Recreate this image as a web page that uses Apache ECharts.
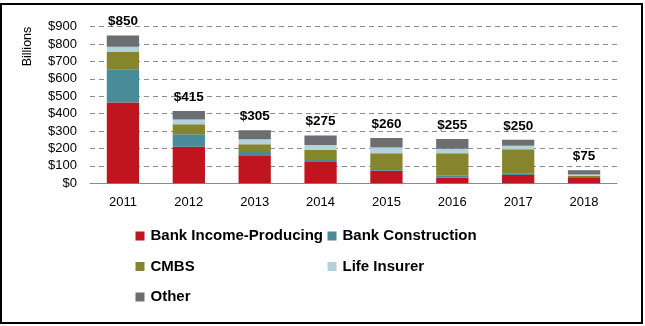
<!DOCTYPE html>
<html><head><meta charset="utf-8">
<script src="https://cdn.jsdelivr.net/npm/echarts@6/dist/echarts.min.js"></script>
<style>html,body{margin:0;padding:0;background:#fff}#c{width:645px;height:326px}</style>
</head><body><div id="c"></div>
<script>
const years = ['2011','2012','2013','2014','2015','2016','2017','2018'];
const totals = [850, 415, 305, 275, 260, 255, 250, 75];
const bankIncome = [465, 210, 161, 122, 72, 33, 47, 31];
const bankConstruction = [190, 72, 19, 17, 10, 10, 8, 5];
const cmbs = [100, 58, 44, 54, 90, 129, 141, 8];
const lifeInsurer = [30, 27, 29, 27, 34, 27, 20, 6];
const other = [65, 48, 52, 55, 54, 56, 34, 25];
const yTicks = [0, 100, 200, 300, 400, 500, 600, 700, 800, 900];

const font = "'Liberation Sans',Arial,sans-serif";
const colors = ['#c0141e', '#4a8b99', '#86852e', '#b3d3dc', '#6d6e71'];
const names = ['Bank Income-Producing', 'Bank Construction', 'CMBS', 'Life Insurer', 'Other'];
const datas = [bankIncome, bankConstruction, cmbs, lifeInsurer, other];

const series = datas.map((d, i) => ({
  name: names[i], type: 'bar', stack: 'total', data: d, barWidth: '49%',
  itemStyle: { color: colors[i] },
  label: i === 4 ? {
    show: true, position: 'top', distance: 7,
    formatter: p => '$' + totals[p.dataIndex],
    fontFamily: font, fontWeight: 'bold', fontSize: 13.5, color: '#000'
  } : { show: false }
}));

const legendText = { fontFamily: font, fontWeight: 'bold', fontSize: 15, color: '#000', lineHeight: 17, padding: [0,0,0,1] };

const chart = echarts.init(document.getElementById('c'), null, { renderer: 'canvas' });
chart.setOption({
  animation: false,
  color: colors,
  grid: { left: 90, right: 28, top: 26.7, bottom: 142.7 },
  graphic: [{
    type: 'rect', shape: { x: 1, y: 4, width: 641, height: 319 },
    style: { fill: 'none', stroke: '#000', lineWidth: 2 }, z: 100
  }, {
    type: 'text', x: 27.7, y: 46.5, rotation: Math.PI / 2,
    style: { text: 'Billions', fontFamily: font, fontSize: 12.5, fill: '#000', align: 'center', verticalAlign: 'middle' }
  }],
  legend: [{
    orient: 'vertical', left: 135.5, top: 227.5, padding: 0,
    data: ['Bank Income-Producing', 'CMBS', 'Other'],
    icon: 'rect', itemWidth: 9, itemHeight: 9, itemGap: 13.5,
    textStyle: legendText
  }, {
    orient: 'vertical', left: 327.5, top: 227.5, padding: 0,
    data: ['Bank Construction', 'Life Insurer'],
    icon: 'rect', itemWidth: 9, itemHeight: 9, itemGap: 13.5,
    textStyle: legendText
  }],
  xAxis: {
    type: 'category', data: years,
    axisLine: { lineStyle: { color: '#8c8c8c', width: 1 } },
    axisTick: { show: false },
    axisLabel: { fontFamily: font, fontSize: 13, color: '#000', margin: 13 }
  },
  yAxis: {
    type: 'value', min: 0, max: 900, interval: 100,
    axisLine: { show: false }, axisTick: { show: false },
    axisLabel: { fontFamily: font, fontSize: 13, color: '#000', margin: 13,
      formatter: v => yTicks.includes(v) ? '$' + v : '' },
    splitLine: { lineStyle: { color: '#8c8c8c', type: [5, 4], width: 1 } }
  },
  series: series
});
</script></body></html>
